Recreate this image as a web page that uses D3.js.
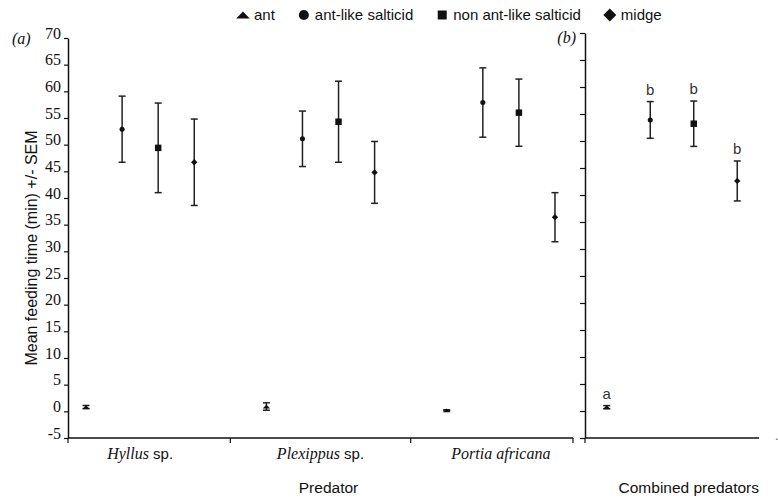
<!DOCTYPE html>
<html>
<head>
<meta charset="utf-8">
<script src="https://cdn.jsdelivr.net/npm/d3@7"></script>
<style>
  body { margin: 0; background: #fff; }
  svg { display: block; }
</style>
</head>
<body>
<div id="chart"></div>
<script>
const predators = ['Hyllus', 'Plexippus', 'Portia africana'];
const predatorSuffix = [' sp.', ' sp.', ''];
const prey = ['ant', 'ant-like salticid', 'non ant-like salticid', 'midge'];

// means and SEM, one row per predator, columns follow prey
const meanA = [
  [0.8, 52.9, 49.4, 46.7],
  [0.9, 51.1, 54.3, 44.8],
  [0.2, 57.9, 56.0, 36.4]
];
const semA = [
  [0.3, 6.2, 8.4, 8.1],
  [0.7, 5.2, 7.6, 5.8],
  [0.1, 6.5, 6.3, 4.6]
];
// combined predators
const meanB = [0.7, 53.9, 53.2, 42.6];
const semB = [0.3, 3.4, 4.2, 3.7];
const lettersB = ['a', 'b', 'b', 'b'];

const yTicks = [-5, 0, 5, 10, 15, 20, 25, 30, 35, 40, 45, 50, 55, 60, 65, 70];

const width = 778;
const height = 501;
const ink = '#111';
const serif = '"Liberation Serif", "Times New Roman", serif';
const sans = '"Liberation Sans", Arial, sans-serif';

// flat triangle and diamond, the default d3 shapes are too tall
const symbolFlatTriangle = {
  draw(ctx, size) {
    const a = Math.sqrt(size);
    ctx.moveTo(0, -a / 2);
    ctx.lineTo(a, a / 2);
    ctx.lineTo(-a, a / 2);
    ctx.closePath();
  }
};
const symbolRhomb = {
  draw(ctx, size) {
    const r = Math.sqrt(size / 2);
    ctx.moveTo(0, -r);
    ctx.lineTo(r, 0);
    ctx.lineTo(0, r);
    ctx.lineTo(-r, 0);
    ctx.closePath();
  }
};
const shapes = [symbolFlatTriangle, d3.symbolCircle, d3.symbolSquare, symbolRhomb];
const plotSizes = [14, 20, 42, 20];
const legendSizes = [46, 80, 81, 85];

const svg = d3.select('#chart')
  .append('svg')
  .attr('width', width)
  .attr('height', height)
  .attr('viewBox', `0 0 ${width} ${height}`);

// ---- scales
const yA = d3.scaleLinear().domain([-5, 70]).range([438, 38]);
const yB = d3.scaleLinear().domain([-5, 70]).range([438, 33]);

const xPred = d3.scaleBand().domain(predators).range([68, 573]).paddingInner(0.2).paddingOuter(0);
const xPrey = d3.scalePoint().domain(prey).range([0, xPred.bandwidth()]).padding(0.5);
const xB = d3.scalePoint().domain(prey).range([585, 759]).padding(0.5);

// ---- axes panel (a)
const axisA = svg.append('g')
  .attr('transform', `translate(${xPred.range()[0]},0)`)
  .call(d3.axisLeft(yA).tickValues(yTicks).tickSize(4).tickSizeOuter(0).tickPadding(3));
axisA.attr('font-family', null).attr('font-size', null);
axisA.select('.domain').attr('stroke', ink).attr('stroke-width', 1.5);
axisA.selectAll('.tick line').attr('stroke', ink).attr('stroke-width', 1.2);
axisA.selectAll('.tick text')
  .attr('dy', '0')
  .style('font-family', serif)
  .style('font-size', '16px')
  .attr('fill', ink)
  .text(d => (d < 0 ? '-' + Math.abs(d) : d));

const baseA = yA(-5);
svg.append('line')
  .attr('x1', xPred.range()[0]).attr('x2', xPred.range()[1])
  .attr('y1', baseA).attr('y2', baseA)
  .attr('stroke', ink).attr('stroke-width', 1.5);

// category boundary ticks: axis ends and middle of the gaps
const bounds = [xPred.range()[0]];
predators.slice(1).forEach(p => {
  bounds.push(xPred(p) - (xPred.step() - xPred.bandwidth()) / 2);
});
bounds.push(xPred.range()[1]);
svg.selectAll('.xtick')
  .data(bounds)
  .enter()
  .append('line')
  .attr('x1', d => d).attr('x2', d => d)
  .attr('y1', baseA).attr('y2', baseA + 5)
  .attr('stroke', ink).attr('stroke-width', 1.2);

const catLabels = svg.selectAll('.cat')
  .data(predators)
  .enter()
  .append('text')
  .attr('x', d => xPred(d) + xPred.bandwidth() / 2)
  .attr('y', 459)
  .attr('text-anchor', 'middle')
  .attr('fill', ink);
catLabels.append('tspan')
  .style('font-family', serif)
  .style('font-style', 'italic')
  .style('font-size', '16px')
  .text(d => d);
catLabels.append('tspan')
  .style('font-family', sans)
  .style('font-size', '15px')
  .text((d, i) => predatorSuffix[i]);

svg.append('text')
  .attr('x', (xPred.range()[0] + xPred.range()[1]) / 2 + 8)
  .attr('y', 493)
  .attr('text-anchor', 'middle')
  .style('font-family', sans)
  .style('font-size', '15.5px')
  .attr('fill', ink)
  .text('Predator');

svg.append('text')
  .attr('transform', `translate(37,${(yA(70) + yA(-5)) / 2 + 10}) rotate(-90)`)
  .attr('text-anchor', 'middle')
  .style('font-family', sans)
  .style('font-size', '16px')
  .attr('fill', ink)
  .text('Mean feeding time (min) +/- SEM');

svg.append('text')
  .attr('x', 12).attr('y', 44)
  .style('font-family', serif).style('font-style', 'italic').style('font-size', '16px')
  .attr('fill', ink)
  .text('(a)');

// ---- axes panel (b)
const axisB = svg.append('g')
  .attr('transform', `translate(${xB.range()[0]},0)`)
  .call(d3.axisLeft(yB).tickValues(yTicks).tickSize(5).tickSizeOuter(0).tickFormat(''));
axisB.select('.domain').attr('stroke', ink).attr('stroke-width', 1.5);
axisB.selectAll('.tick line').attr('stroke', ink).attr('stroke-width', 1.2);

const baseB = yB(-5);
svg.append('line')
  .attr('x1', xB.range()[0]).attr('x2', xB.range()[1])
  .attr('y1', baseB).attr('y2', baseB)
  .attr('stroke', ink).attr('stroke-width', 1.5);
svg.append('line')
  .attr('x1', xB.range()[0]).attr('x2', xB.range()[0])
  .attr('y1', baseB).attr('y2', baseB + 5)
  .attr('stroke', ink).attr('stroke-width', 1.2);

svg.append('text')
  .attr('x', xB.range()[1])
  .attr('y', 493)
  .attr('text-anchor', 'end')
  .style('font-family', sans)
  .style('font-size', '15.5px')
  .attr('fill', ink)
  .text('Combined predators');

svg.append('text')
  .attr('x', 576).attr('y', 43)
  .attr('text-anchor', 'end')
  .style('font-family', serif).style('font-style', 'italic').style('font-size', '16px')
  .attr('fill', ink)
  .text('(b)');

svg.append('text')
  .attr('x', 775).attr('y', baseB + 2)
  .style('font-family', sans).style('font-size', '12px')
  .attr('fill', '#555')
  .text('.');

// ---- error bars and markers
const pointsA = [];
predators.forEach((p, i) => {
  prey.forEach((q, j) => {
    pointsA.push({ x: xPred(p) + xPrey(q), mean: meanA[i][j], sem: semA[i][j], k: j });
  });
});
const pointsB = prey.map((q, j) => ({ x: xB(q), mean: meanB[j], sem: semB[j], k: j, letter: lettersB[j] }));

function drawPoints(data, y) {
  const g = svg.append('g');
  const cap = 3.5;
  const bars = g.selectAll('g').data(data).enter().append('g');
  bars.append('line')
    .attr('x1', d => d.x).attr('x2', d => d.x)
    .attr('y1', d => y(d.mean + d.sem)).attr('y2', d => y(d.mean - d.sem))
    .attr('stroke', '#222').attr('stroke-width', 1.5);
  [1, -1].forEach(s => {
    bars.append('line')
      .attr('x1', d => d.x - cap).attr('x2', d => d.x + cap)
      .attr('y1', d => y(d.mean + s * d.sem)).attr('y2', d => y(d.mean + s * d.sem))
      .attr('stroke', '#222').attr('stroke-width', 1.5);
  });
  bars.append('path')
    .attr('transform', d => `translate(${d.x},${y(d.mean)})`)
    .attr('d', d => d3.symbol(shapes[d.k], plotSizes[d.k])())
    .attr('fill', ink);
  return bars;
}

drawPoints(pointsA, yA);
const barsB = drawPoints(pointsB, yB);
barsB.append('text')
  .attr('x', d => d.x)
  .attr('y', d => yB(d.mean + d.sem) - 7)
  .attr('text-anchor', 'middle')
  .style('font-family', sans)
  .style('font-size', '15px')
  .attr('fill', '#333')
  .text(d => d.letter);

// ---- legend
const legend = svg.append('g').attr('transform', 'translate(237,20)');
let lx = 0;
prey.forEach((q, j) => {
  legend.append('path')
    .attr('transform', `translate(${lx + 6},-5)`)
    .attr('d', d3.symbol(shapes[j], legendSizes[j])())
    .attr('fill', ink);
  const t = legend.append('text')
    .attr('x', lx + 17)
    .attr('y', 0)
    .style('font-family', sans)
    .style('font-size', '15px')
    .attr('fill', ink)
    .text(q);
  lx += 17 + t.node().getComputedTextLength() + 23;
});
</script>
</body>
</html>
